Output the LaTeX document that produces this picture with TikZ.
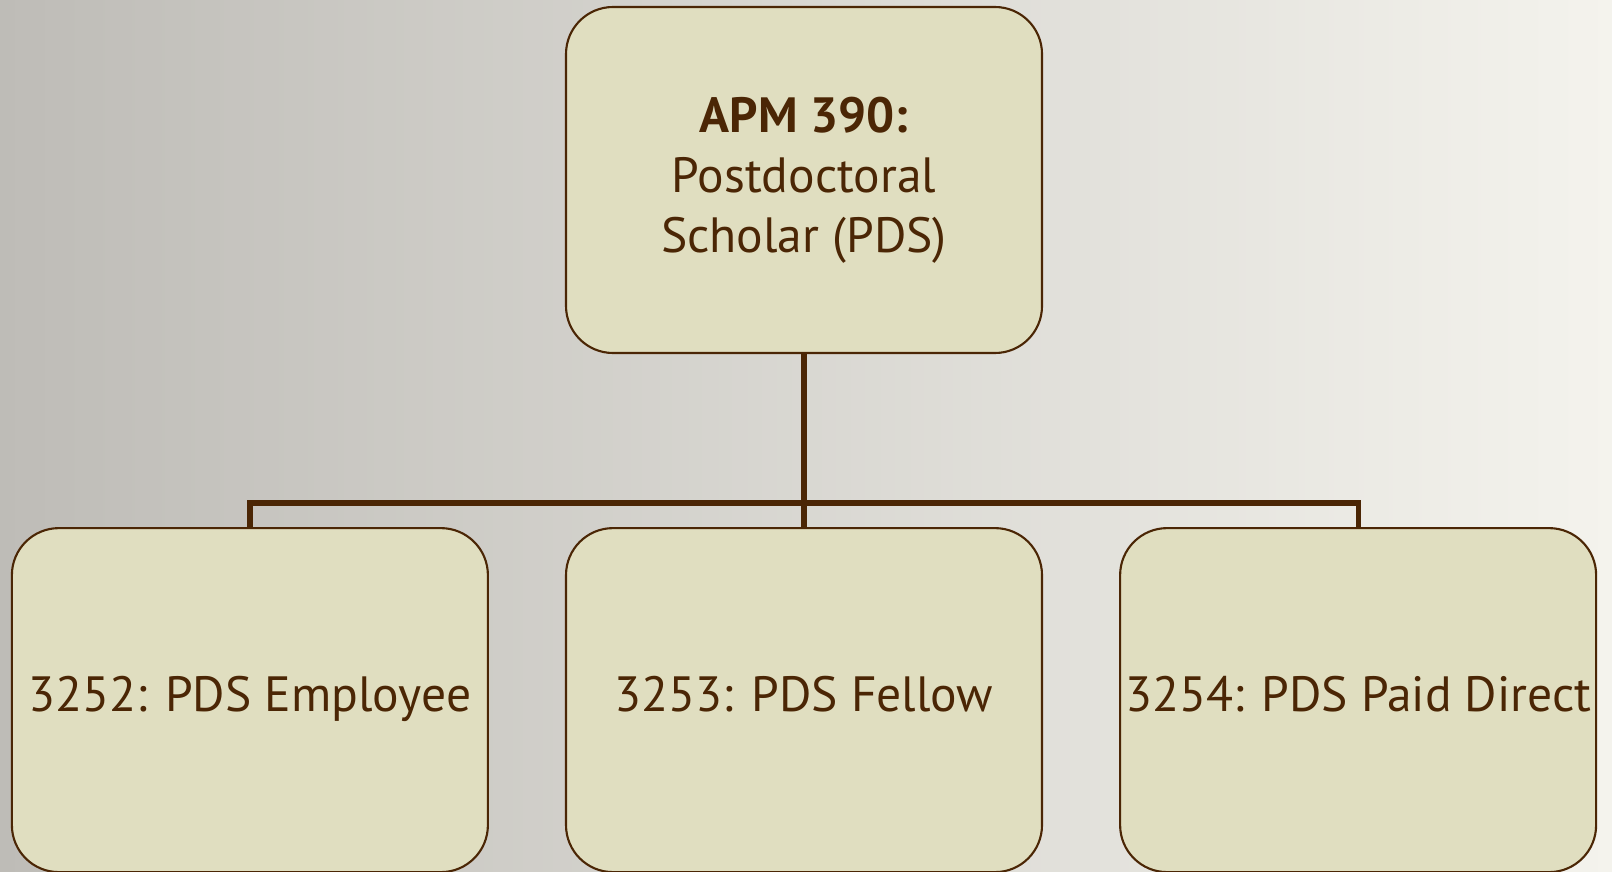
\documentclass[tikz,border=0pt]{standalone}
\usepackage{fontspec}
\setmainfont{PT Sans}
\usetikzlibrary{positioning}
\definecolor{boxfill}{RGB}{224,222,192}
\definecolor{brownline}{RGB}{75,38,5}
\definecolor{bgleft}{RGB}{190,188,183}
\definecolor{bgright}{RGB}{244,243,237}
\begin{document}
\begin{tikzpicture}[
    box/.style={draw=brownline, line width=0.6pt, fill=boxfill, rounded corners=0.47cm,
      minimum width=4.76cm, inner sep=0pt, text=brownline, align=center,
      font=\fontsize{14.1}{17.1}\selectfont},
    leaf/.style={box, minimum height=3.44cm, text height=0.8em, text depth=0.13em},
    link/.style={draw=brownline, line width=1.5pt}
  ]
        \shade[left color=bgleft, right color=bgright] (0,0) rectangle (16.12,8.71);
        \useasboundingbox (0,0) rectangle (16.12,8.71);
        \node[box, minimum height=3.46cm] (apm) at (8.04,6.91)
          {\textbf{APM 390:}\\Postdoctoral\\Scholar (PDS)};
        \node[leaf, below=1.73cm of apm] (fellow) {3253: PDS Fellow};
        \node[leaf, left=0.76cm of fellow] (employee) {3252: PDS Employee};
        \node[leaf, right=0.76cm of fellow] (paid) {3254: PDS Paid Direct};
        \draw[link] (apm.south) -- (fellow.north);
        \draw[link] (employee.north) -- ++(0,0.24) -| (paid.north);
      \end{tikzpicture}
\end{document}
